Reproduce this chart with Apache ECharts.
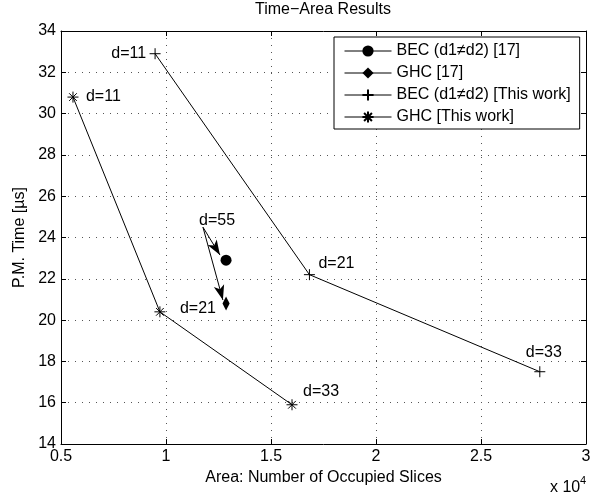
<!DOCTYPE html>
<html>
<head>
<meta charset="utf-8">
<script src="https://cdn.jsdelivr.net/npm/echarts@6.0.0/dist/echarts.min.js"></script>
<style>
html,body{margin:0;padding:0;background:#fff;}
#chart{width:607px;height:495px;}
</style>
</head>
<body>
<div id="chart"></div>
<script>
// ---- data (x = number of occupied slices, y = P.M. time in µs) ----
const becRefX = [12860];
const becRefY = [22.9];
const ghcRefX = [12860];
const ghcRefY = [20.8];
const becOursX = [9480, 16830, 27800];
const becOursY = [32.9, 22.2, 17.5];
const ghcOursX = [5570, 9710, 16000];
const ghcOursY = [30.8, 20.4, 15.9];
const pointLabels = ['d=11', 'd=21', 'd=33'];
const seriesNames = ['BEC (d1\u2260d2) [17]', 'GHC [17]', 'BEC (d1\u2260d2) [This work]', 'GHC [This work]'];
// d=55 annotation: label anchor and arrows (start -> tip) in data units
const d55Label = [12430, 24.8];
const arrowStart = [11760, 24.5];
const arrowTipBec = [12570, 23.15];
const arrowTipGhc = [12710, 20.97];
const xTicks = [5000, 30000, 5000];   // min, max, interval
const yTicks = [14, 34, 2];

const FONT = 'Liberation Sans, Arial, Helvetica, sans-serif';
const PLUS = 'path://M5,0L5,10M0,5L10,5';
const STAR = 'path://M5,0L5,10M0,5L10,5M1.5,1.5L8.5,8.5M1.5,8.5L8.5,1.5';
const DIAMOND = 'path://M5,0L10,7L5,14L0,7Z';

function pts(xs, ys, labelCfg) {
  return xs.map((x, i) => {
    const item = { value: [x, ys[i]] };
    if (labelCfg) {
      item.label = Object.assign({ show: true, formatter: pointLabels[i], color: '#000', fontSize: 16, fontFamily: FONT }, labelCfg[i]);
    }
    return item;
  });
}

const becOursLabels = [
  { position: 'left', distance: 3 },
  { position: 'right', distance: 3, offset: [0, -11] },
  { position: 'top', distance: 5, offset: [4, 0] }
];
const ghcOursLabels = [
  { position: 'right', distance: 7 },
  { position: 'right', distance: 14, offset: [0, -3] },
  { position: 'right', distance: 5, offset: [0, -13] }
];

const axisCommon = {
  axisLine: { show: true, lineStyle: { color: '#000', width: 1 } },
  axisTick: { show: true, inside: true, length: 5, lineStyle: { color: '#000' } },
};

const chart = echarts.init(document.getElementById('chart'), null, { renderer: 'canvas' });
chart.setOption({
  animation: false,
  backgroundColor: '#fff',
  title: {
    text: 'Time\u2212Area Results',
    left: 323, top: 2, textAlign: 'center', padding: 0,
    textStyle: { fontSize: 16, fontWeight: 'normal', color: '#000', fontFamily: FONT }
  },
  grid: { left: 61, right: 21, top: 31, bottom: 51, show: false },
  legend: {
    orient: 'vertical',
    left: 334, top: 37,
    padding: [6, 9, 4, 10],
    itemGap: 6,
    itemWidth: 47, itemHeight: 14,
    borderColor: '#000', borderWidth: 1,
    backgroundColor: '#fff',
    lineStyle: { width: 1, color: '#000' },
    textStyle: { fontSize: 16, color: '#000', fontFamily: FONT, lineHeight: 16 },
    data: seriesNames
  },
  xAxis: [
    Object.assign({
      type: 'value', position: 'bottom',
      min: xTicks[0], max: xTicks[1], interval: xTicks[2],
      name: 'Area: Number of Occupied Slices', nameLocation: 'middle', nameGap: 21,
      nameTextStyle: { fontSize: 16, color: '#000', fontFamily: FONT },
      axisLabel: { formatter: v => String(v / 10000), fontSize: 16, color: '#000', fontFamily: FONT, margin: 5 },
      splitLine: { show: true, lineStyle: { color: '#555', type: [1, 6], width: 1 } }
    }, axisCommon),
    Object.assign({
      type: 'value', position: 'top',
      min: xTicks[0], max: xTicks[1], interval: xTicks[2],
      axisLabel: { show: false }, splitLine: { show: false }
    }, axisCommon)
  ],
  yAxis: [
    Object.assign({
      type: 'value', position: 'left',
      min: yTicks[0], max: yTicks[1], interval: yTicks[2],
      name: 'P.M. Time [\u00b5s]', nameLocation: 'middle', nameGap: 32,
      nameTextStyle: { fontSize: 16, color: '#000', fontFamily: FONT },
      axisLabel: { fontSize: 16, color: '#000', fontFamily: FONT, margin: 5 },
      splitLine: { show: true, lineStyle: { color: '#555', type: [1, 6], width: 1 } }
    }, axisCommon),
    Object.assign({
      type: 'value', position: 'right',
      min: yTicks[0], max: yTicks[1], interval: yTicks[2],
      axisLabel: { show: false }, splitLine: { show: false }
    }, axisCommon)
  ],
  graphic: [
    { type: 'text', left: 550, top: 480, style: { text: 'x 10', fontSize: 16, fill: '#000', fontFamily: FONT } },
    { type: 'text', left: 580, top: 475, style: { text: '4', fontSize: 11, fill: '#000', fontFamily: FONT } }
  ],
  series: [
    {
      name: 'arrows', type: 'line', data: [], silent: true, z: 1,
      markLine: {
        silent: true, animation: false,
        symbol: ['none', 'arrow'], symbolSize: [8, 15],
        lineStyle: { color: '#000', width: 1, type: 'solid' },
        label: { show: false },
        data: [
          [{ coord: arrowStart }, { coord: arrowTipBec }],
          [{ coord: arrowStart }, { coord: arrowTipGhc }]
        ]
      },
      markPoint: {
        symbol: 'circle', symbolSize: 1, itemStyle: { color: 'rgba(0,0,0,0)' },
        label: { show: true, position: 'inside', formatter: 'd=55', color: '#000', fontSize: 16, fontFamily: FONT },
        data: [{ coord: d55Label }]
      }
    },
    {
      name: seriesNames[0], type: 'line', z: 3,
      data: pts(becRefX, becRefY),
      symbol: 'circle', symbolSize: 11,
      itemStyle: { color: '#000' },
      lineStyle: { color: '#000', width: 1 }
    },
    {
      name: seriesNames[1], type: 'line', z: 3,
      data: pts(ghcRefX, ghcRefY),
      symbol: DIAMOND, symbolSize: [10, 14], symbolKeepAspect: true,
      itemStyle: { color: '#000' },
      lineStyle: { color: '#000', width: 1 }
    },
    {
      name: seriesNames[2], type: 'line', z: 3,
      data: pts(becOursX, becOursY, becOursLabels),
      symbol: PLUS, symbolSize: 11,
      itemStyle: { color: '#000', borderColor: '#000', borderWidth: 1 },
      lineStyle: { color: '#000', width: 1 }
    },
    {
      name: seriesNames[3], type: 'line', z: 3,
      data: pts(ghcOursX, ghcOursY, ghcOursLabels),
      symbol: STAR, symbolSize: 11,
      itemStyle: { color: '#000', borderColor: '#000', borderWidth: 1 },
      lineStyle: { color: '#000', width: 1 }
    }
  ]
});
</script>
</body>
</html>
